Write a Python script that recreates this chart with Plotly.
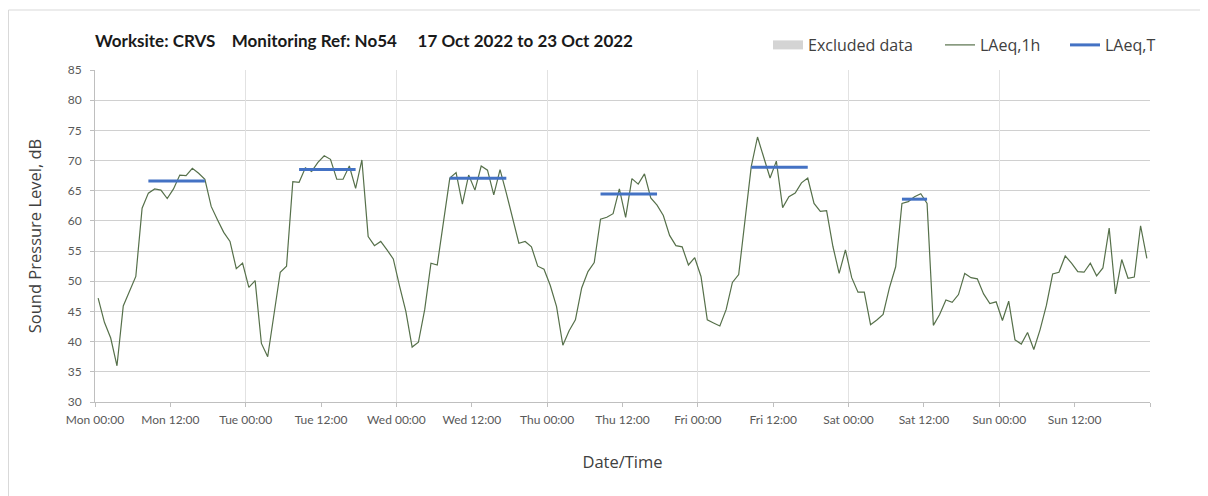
import pandas as pd
import plotly.graph_objects as go

# ---------------- data ----------------
start = "2022-10-17 00:00"
end = "2022-10-24 00:00"

laeq_1h = [
    # Mon
    47.2, 43.2, 40.6, 36.0, 45.9, 48.3, 50.8, 62.1, 64.6, 65.3, 65.1, 63.7,
    65.3, 67.6, 67.5, 68.7, 67.9, 66.9, 62.4, 60.2, 58.1, 56.6, 52.1, 53.0,
    # Tue
    49.0, 50.1, 39.7, 37.5, 44.5, 51.5, 52.5, 66.5, 66.4, 68.8, 68.2, 69.7,
    70.8, 70.2, 66.9, 66.9, 69.1, 65.4, 70.1, 57.4, 55.9, 56.6, 55.2, 53.7,
    # Wed
    49.2, 45.0, 39.1, 39.9, 45.3, 53.0, 52.7, 59.9, 67.1, 68.0, 62.8, 67.6,
    65.1, 69.1, 68.4, 64.3, 68.5, 64.6, 60.6, 56.3, 56.6, 55.7, 52.5, 52.0,
    # Thu
    49.3, 45.8, 39.4, 41.8, 43.6, 48.9, 51.6, 53.1, 60.3, 60.6, 61.2, 65.3,
    60.6, 67.0, 66.1, 67.8, 63.8, 62.6, 60.9, 57.6, 55.9, 55.7, 52.7, 53.9,
    # Fri
    50.8, 43.6, 43.1, 42.6, 45.3, 49.8, 51.1, 60.5, 69.0, 73.9, 70.7, 67.1,
    69.9, 62.2, 64.0, 64.6, 66.3, 67.1, 62.9, 61.6, 61.7, 55.8, 51.3, 55.2,
    # Sat
    50.6, 48.2, 48.2, 42.8, 43.6, 44.5, 48.9, 52.4, 62.9, 63.2, 64.0, 64.5,
    62.9, 42.7, 44.5, 46.9, 46.5, 47.8, 51.3, 50.6, 50.4, 47.9, 46.3, 46.6,
    # Sun
    43.5, 46.7, 40.3, 39.6, 41.5, 38.7, 42.0, 46.0, 51.2, 51.5, 54.2, 53.0,
    51.6, 51.5, 53.0, 50.9, 52.2, 58.8, 47.9, 53.6, 50.5, 50.7, 59.2, 53.8,
]

# LAeq,T assessment periods
period_start = ["2022-10-17 08:00", "2022-10-18 08:00", "2022-10-19 08:00",
                "2022-10-20 08:00", "2022-10-21 08:00", "2022-10-22 08:00"]
period_end = ["2022-10-17 18:00", "2022-10-18 18:00", "2022-10-19 18:00",
              "2022-10-20 18:00", "2022-10-21 18:00", "2022-10-22 13:00"]
laeq_t = [66.6, 68.5, 67.05, 64.45, 68.9, 63.6]

title_text = ("Worksite: CRVS\u00a0\u00a0\u00a0\u00a0Monitoring Ref: No54"
              "\u00a0\u00a0\u00a0\u00a0\u00a017 Oct 2022 to 23 Oct 2022")

# ---------------- derived ----------------
half_hour = pd.Timedelta(minutes=30)
times = pd.date_range(start, periods=len(laeq_1h), freq="h") + half_hour

bx, by = [], []
for s, e, v in zip(period_start, period_end, laeq_t):
    bx += [pd.Timestamp(s) + half_hour, pd.Timestamp(e) - half_hour, None]
    by += [v, v, None]

tickvals = list(pd.date_range(start, end, freq="12h"))
ticktext = [t.strftime("%a %H:%M") for t in tickvals[:-1]] + [""]

GREEN = "#56704a"
BLUE = "#4472c4"
TXT = "#404040"
TICK = "#595959"
FONT = "Lato"
TFONT = "Open Sans"

fig = go.Figure()
fig.add_trace(go.Scatter(
    x=[None], y=[None], mode="lines", name="Excluded data",
    line=dict(color="#d4d4d4", width=9), xaxis="x2", legend="legend",
    hoverinfo="skip"))
fig.add_trace(go.Scatter(
    x=times, y=laeq_1h, mode="lines", name="LAeq,1h",
    line=dict(color=GREEN, width=1.2), legend="legend2"))
fig.add_trace(go.Scatter(
    x=bx, y=by, mode="lines", name="LAeq,T",
    line=dict(color=BLUE, width=3), legend="legend3"))

# page body adds an 8px offset; layout sized so the plot lands where wanted
OFF = 8
W, H = 1200, 488
L, T = 95 - OFF, 70 - OFF
R = W - (1150 - OFF)
B = H - (402 - OFF)
pw = W - L - R
ph = H - T - B


def px_x(px):
    return (px - OFF - L) / pw


def px_y(py):
    return (H - B - (py - OFF)) / ph


leg_font = dict(family=TFONT, size=16, color=TXT)
legend_common = dict(orientation="h", yanchor="middle", xanchor="left",
                     bgcolor="rgba(0,0,0,0)", font=leg_font,
                     itemwidth=30, tracegroupgap=0)

fig.update_layout(
    width=W, height=H,
    margin=dict(l=L, r=R, t=T, b=B, autoexpand=False),
    paper_bgcolor="white", plot_bgcolor="white",
    font=dict(family=FONT, color=TXT),
    title=dict(text="<b>" + title_text + "</b>", x=px_x(95), xref="paper",
               xanchor="left", y=1 - (41 - OFF) / H, yanchor="middle",
               font=dict(family=FONT, size=17, color="#1a1a1a")),
    legend=dict(x=px_x(768), y=px_y(45), **legend_common),
    legend2=dict(x=px_x(940), y=px_y(45), **legend_common),
    legend3=dict(x=px_x(1065), y=px_y(45), **legend_common),
    xaxis=dict(
        type="date", range=[start, end], automargin=False,
        tickvals=tickvals, ticktext=ticktext,
        showgrid=False, zeroline=False,
        showline=True, linecolor="#bfbfbf", linewidth=1,
        ticks="outside", ticklen=4, tickcolor="#bfbfbf",
        ticklabelstandoff=3,
        tickfont=dict(family=FONT, size=12, color=TICK),
        title=dict(text="Date/Time", standoff=30,
                   font=dict(family=TFONT, size=16.5, color=TXT)),
    ),
    xaxis2=dict(
        type="date", overlaying="x", matches="x", anchor="y", side="bottom",
        range=[start, end], tick0=start, dtick=86400000, automargin=False,
        showticklabels=False, ticks="", showline=False, zeroline=False,
        showgrid=True, gridcolor="#e2e2e2", gridwidth=1,
    ),
    yaxis=dict(
        range=[30, 85], dtick=5, tick0=30, automargin=False,
        showgrid=True, gridcolor="#d0d0d0", gridwidth=1, zeroline=False,
        showline=True, linecolor="#bfbfbf", linewidth=1,
        ticks="outside", ticklen=4, tickcolor="#bfbfbf",
        ticklabelstandoff=6,
        tickfont=dict(family=FONT, size=12, color=TICK),
        title=dict(text="Sound Pressure Level, dB", standoff=21,
                   font=dict(family=TFONT, size=16.5, color=TXT)),
    ),
    shapes=[dict(type="rect", xref="paper", yref="paper",
                 x0=px_x(8.5), x1=px_x(1230), y0=px_y(520), y1=px_y(10),
                 line=dict(color="#d9d9d9", width=1), layer="below")],
    showlegend=True,
)

fig.write_html("out.html")
